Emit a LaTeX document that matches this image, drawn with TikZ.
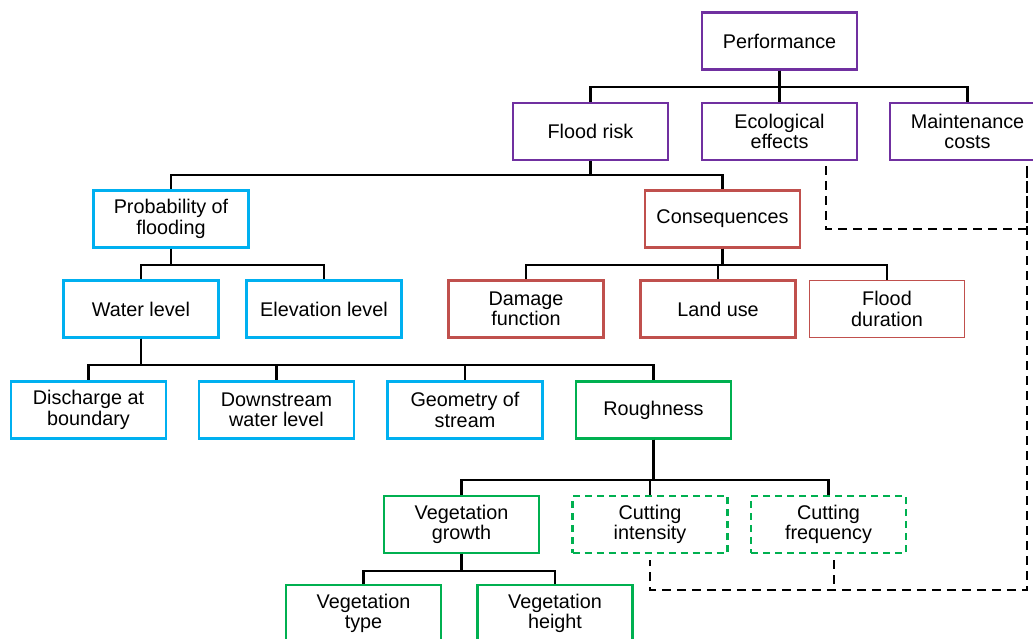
\documentclass[tikz,border=0pt]{standalone}
\usepackage{fontspec}
\setmainfont{Liberation Sans}
\usepackage{tikz}

\definecolor{perfc}{RGB}{112,48,160}
\definecolor{probc}{RGB}{0,176,240}
\definecolor{consc}{RGB}{192,80,77}
\definecolor{roughc}{RGB}{0,176,80}

\tikzset{
  box/.style={draw, line width=2.2pt, fill=white, minimum width=155pt, minimum height=57pt,
    inner sep=2pt, align=center, font=\fontsize{19.8}{20.5}\selectfont},
  perfbox/.style={box, draw=perfc},
  probbox/.style={box, draw=probc},
  consbox/.style={box, draw=consc},
  roughbox/.style={box, draw=roughc},
  optbox/.style={box, draw=roughc, dash pattern=on 7pt off 5pt},
  conn/.style={line width=2.2pt, line join=miter},
  dashline/.style={line width=2.2pt, dash pattern=on 9pt off 6pt}
}

\begin{document}
\begin{tikzpicture}[x=1pt, y=-1pt]
			\clip (0,0) rectangle (1033,639);
			\fill[white] (0,0) rectangle (1033,639);

			% top level
			\node[perfbox] (perf) at (779.5,41) {Performance};
			\node[perfbox] (flood) at (590.5,131.5) {Flood risk};
			\node[perfbox] (eco) at (779.5,131.5) {Ecological\\effects};
			\node[perfbox] (maint) at (967.5,131.5) {Maintenance\\costs};

			% flood risk branch
			\node[probbox] (prob) at (171,219) {Probability of\\flooding};
			\node[consbox] (cons) at (722.5,219) {Consequences};
			\node[probbox] (water) at (141,309) {Water level};
			\node[probbox] (elev) at (324,309) {Elevation level};
			\node[consbox] (damage) at (526,309) {Damage\\function};
			\node[consbox] (land) at (718,309) {Land use};
			\node[consbox, line width=1.2pt] (dur) at (887,309) {Flood\\duration};

			% water level branch
			\node[probbox] (disch) at (88.5,410) {Discharge at\\boundary};
			\node[probbox] (down) at (276.5,410) {Downstream\\water level};
			\node[probbox] (geom) at (465,410) {Geometry of\\stream};
			\node[roughbox] (rough) at (653.5,410) {Roughness};

			% roughness branch
			\node[roughbox] (veg) at (461.5,524.5) {Vegetation\\growth};
			\node[optbox] (cutint) at (650,524.5) {Cutting\\intensity};
			\node[optbox] (cutfreq) at (828.5,524.5) {Cutting\\frequency};
			\node[roughbox] (vegtype) at (363.5,613.5) {Vegetation\\type};
			\node[roughbox] (vegheight) at (555,613.5) {Vegetation\\height};

			% tree connectors
			\foreach \c in {flood,eco,maint}
				\draw[conn] (perf.south) -- ++(0,16.5) -| (\c.north);
			\foreach \c in {prob,cons}
				\draw[conn] (flood.south) -- ++(0,14) -| (\c.north);
			\foreach \c in {water,elev}
				\draw[conn] (prob.south) -- ++(0,16) -| (\c.north);
			\foreach \c in {damage,land,dur}
				\draw[conn] (cons.south) -- ++(0,16) -| (\c.north);
			\foreach \c in {disch,down,geom,rough}
				\draw[conn] (water.south) -- ++(0,26.5) -| (\c.north);
			\foreach \c in {veg,cutint,cutfreq}
				\draw[conn] (rough.south) -- ++(0,40.5) -| (\c.north);
			\foreach \c in {vegtype,vegheight}
				\draw[conn] (veg.south) -- ++(0,16.5) -| (\c.north);

			% maintenance links
			\coordinate (ecoleg) at (826,166);
			\coordinate (mleg) at (1027,166);
			\coordinate (ileg) at (650,560);
			\coordinate (fleg) at (834,560);
			\draw[dashline] (ecoleg) -- ++(0,63) -| (mleg);
			\draw[dashline] (mleg) -- ++(0,424) -| (ileg);
			\draw[dashline] (fleg) -- ++(0,30);
\end{tikzpicture}
\end{document}
